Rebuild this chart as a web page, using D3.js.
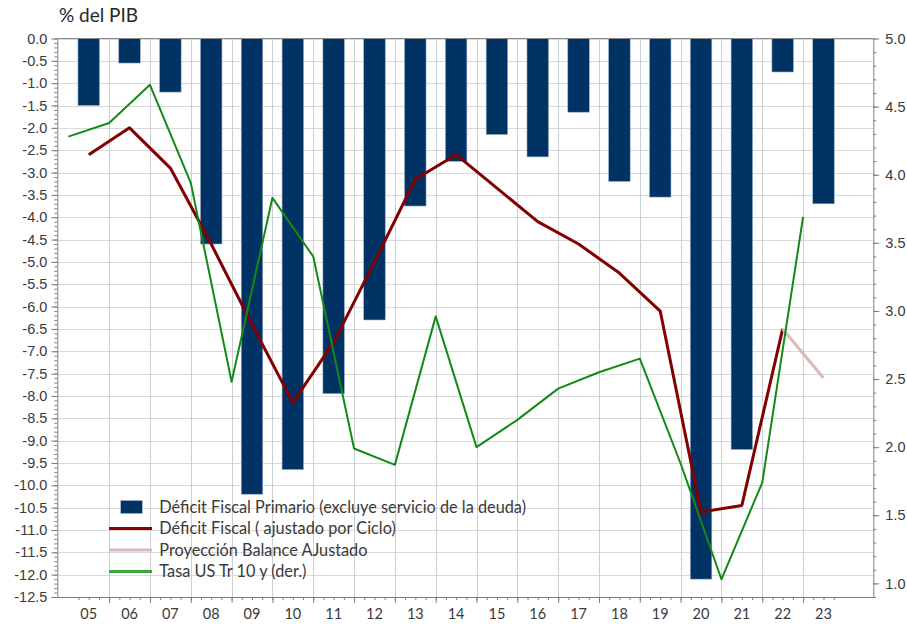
<!DOCTYPE html>
<html>
<head>
<meta charset="utf-8">
<script src="https://cdn.jsdelivr.net/npm/d3@7"></script>
<style>
  body { margin: 0; background: #fff; }
  svg { display: block; font-family: Lato, "Open Sans", sans-serif; }
  .tick text { fill: #3a3a3a; }
</style>
</head>
<body>
<div id="root"></div>
<script>
const width = 907;
const height = 624;

// data
const years = ["05", "06", "07", "08", "09", "10", "11", "12", "13", "14",
    "15", "16", "17", "18", "19", "20", "21", "22", "23"];
const primario = [-1.5, -0.55, -1.2, -4.6, -10.2, -9.65, -7.95, -6.3, -3.75, -2.75,
    -2.15, -2.65, -1.65, -3.2, -3.55, -12.1, -9.2, -0.75, -3.7];
const ajustado = [-2.6, -2.0, -2.9, -4.6, -6.4, -8.15, -6.8, -5.0, -3.15, -2.6,
    -3.35, -4.1, -4.6, -5.25, -6.1, -10.6, -10.45, -6.5, null];
const proyeccion = [null, null, null, null, null, null, null, null, null, null,
    null, null, null, null, null, null, null, -6.5, -7.6];
const tasaUS = [4.28, 4.38, 4.66, 3.94, 2.48, 3.83, 3.40, 1.99, 1.87, 2.96,
    2.00, 2.20, 2.43, 2.55, 2.65, 1.88, 1.03, 1.74, 3.69];

const leftTicks = d3.range(0, -12.51, -0.5);
const rightTicks = d3.range(1.0, 5.01, 0.5);

const legendItems = [
    { label: "Déficit Fiscal Primario (excluye servicio de la deuda)", type: "bar", color: "#003263" },
    { label: "Déficit Fiscal ( ajustado por Ciclo)", type: "line", color: "#8b0000" },
    { label: "Proyección Balance AJustado", type: "line", color: "#dcb9b9" },
    { label: "Tasa US Tr 10 y (der.)", type: "line", color: "#3aa83a" },
];

const plotLeft = 57.3, plotRight = 873.3, plotTop = 38.5, plotBottom = 597;

const x = d3.scaleLinear().domain([2004.73, 2024.72]).range([plotLeft, plotRight]);
const yL = d3.scaleLinear().domain([-12.5, 0]).range([plotBottom, plotTop]);
const yR = d3.scaleLinear().domain([0.9, 5.0]).range([plotBottom, plotTop]);

const center = i => 2005 + i + 0.5;
const barHalf = 0.264;

const svg = d3.select("#root")
    .append("svg")
    .attr("width", width)
    .attr("height", height)
    .attr("viewBox", [0, 0, width, height]);

// gridlines
svg.append("g")
    .selectAll("line")
    .data(leftTicks)
    .join("line")
    .attr("x1", plotLeft).attr("x2", plotRight)
    .attr("y1", d => Math.round(yL(d)) + 0.5).attr("y2", d => Math.round(yL(d)) + 0.5)
    .attr("stroke", "#d9d9d9");

svg.append("g")
    .selectAll("line")
    .data(d3.range(2006, 2024))
    .join("line")
    .attr("x1", d => Math.round(x(d)) + 0.5).attr("x2", d => Math.round(x(d)) + 0.5)
    .attr("y1", plotTop).attr("y2", plotBottom)
    .attr("stroke", "#cbd0d4");

// bars
svg.append("g")
    .selectAll("rect")
    .data(primario)
    .join("rect")
    .attr("x", (d, i) => x(center(i) - barHalf))
    .attr("width", (d, i) => x(center(i) + barHalf) - x(center(i) - barHalf))
    .attr("y", yL(0))
    .attr("height", d => yL(d) - yL(0))
    .attr("fill", "#003263")
    .attr("stroke", "#9fb3cc")
    .attr("stroke-width", 0.6);

// lines
const lineL = d3.line()
    .defined(d => d !== null)
    .x((d, i) => x(center(i)))
    .y(d => yL(d));

svg.append("path")
    .attr("d", lineL(ajustado))
    .attr("fill", "none")
    .attr("stroke", "#820000")
    .attr("stroke-width", 3)
    .attr("stroke-linejoin", "round");

svg.append("path")
    .attr("d", lineL(proyeccion))
    .attr("fill", "none")
    .attr("stroke", "#dcb9b9")
    .attr("stroke-width", 3);

const lineR = d3.line()
    .x((d, i) => x(2005 + i))
    .y(d => yR(d));

svg.append("path")
    .attr("d", lineR(tasaUS))
    .attr("fill", "none")
    .attr("stroke", "#138a17")
    .attr("stroke-width", 2)
    .attr("stroke-linejoin", "round");

// frame
svg.append("line")
    .attr("x1", plotLeft).attr("x2", plotRight)
    .attr("y1", plotTop).attr("y2", plotTop)
    .attr("stroke", "#8a8a8a");

// axes
const fmt = d => d.toFixed(1);

svg.append("g")
    .attr("transform", `translate(${plotLeft},0)`)
    .call(d3.axisLeft(yL).tickValues(d3.range(-12.5, 0.001, 0.1)).tickSize(3).tickSizeOuter(0).tickFormat(""))
    .call(g => g.select(".domain").remove());

svg.append("g")
    .attr("transform", `translate(${plotLeft},0)`)
    .call(d3.axisLeft(yL).tickValues(leftTicks).tickSize(6).tickSizeOuter(0).tickPadding(4).tickFormat(fmt))
    .call(g => g.selectAll("text").attr("font-size", 14.5));

svg.append("g")
    .attr("transform", `translate(${plotRight},0)`)
    .call(d3.axisRight(yR).tickValues(d3.range(0.9, 5.001, 0.1)).tickSize(3).tickSizeOuter(0).tickFormat(""))
    .call(g => g.select(".domain").remove());

svg.append("g")
    .attr("transform", `translate(${plotRight},0)`)
    .call(d3.axisRight(yR).tickValues(rightTicks).tickSize(6).tickSizeOuter(0).tickPadding(6).tickFormat(fmt))
    .call(g => g.selectAll("text").attr("font-size", 14.5));

svg.append("g")
    .attr("transform", `translate(0,${plotBottom})`)
    .call(d3.axisBottom(x).tickValues(d3.range(2005.25, 2023.76, 0.25)).tickSize(3).tickSizeOuter(0).tickFormat(""))
    .call(g => g.select(".domain").remove());

svg.append("g")
    .attr("transform", `translate(0,${plotBottom})`)
    .call(d3.axisBottom(x).tickValues(d3.range(2006, 2024)).tickSize(6).tickSizeOuter(0).tickFormat(""));

svg.append("g")
    .selectAll("text")
    .data(years)
    .join("text")
    .attr("x", (d, i) => x(center(i)))
    .attr("y", 619)
    .attr("text-anchor", "middle")
    .attr("font-size", 14.5)
    .attr("fill", "#3a3a3a")
    .text(d => d);

svg.selectAll(".domain, .tick line").attr("stroke", "#7f7f7f");

// title
svg.append("text")
    .attr("x", 59)
    .attr("y", 22)
    .attr("font-size", 19)
    .attr("fill", "#262626")
    .text("% del PIB");

// legend
const legend = svg.append("g")
    .selectAll("g")
    .data(legendItems)
    .join("g")
    .attr("transform", (d, i) => `translate(0,${507 + i * 21.5})`);

legend.filter(d => d.type === "bar")
    .append("rect")
    .attr("x", 120.7).attr("y", -6.5)
    .attr("width", 21.6).attr("height", 13)
    .attr("fill", d => d.color)
    .attr("stroke", "#9fb3cc")
    .attr("stroke-width", 0.6);

legend.filter(d => d.type === "line")
    .append("line")
    .attr("x1", 109).attr("x2", 152)
    .attr("stroke", d => d.color)
    .attr("stroke-width", 3);

legend.append("text")
    .attr("x", 159.3)
    .attr("dy", "0.35em")
    .attr("font-size", 16.3)
    .attr("fill", "#3a3a3a")
    .text(d => d.label);
</script>
</body>
</html>
